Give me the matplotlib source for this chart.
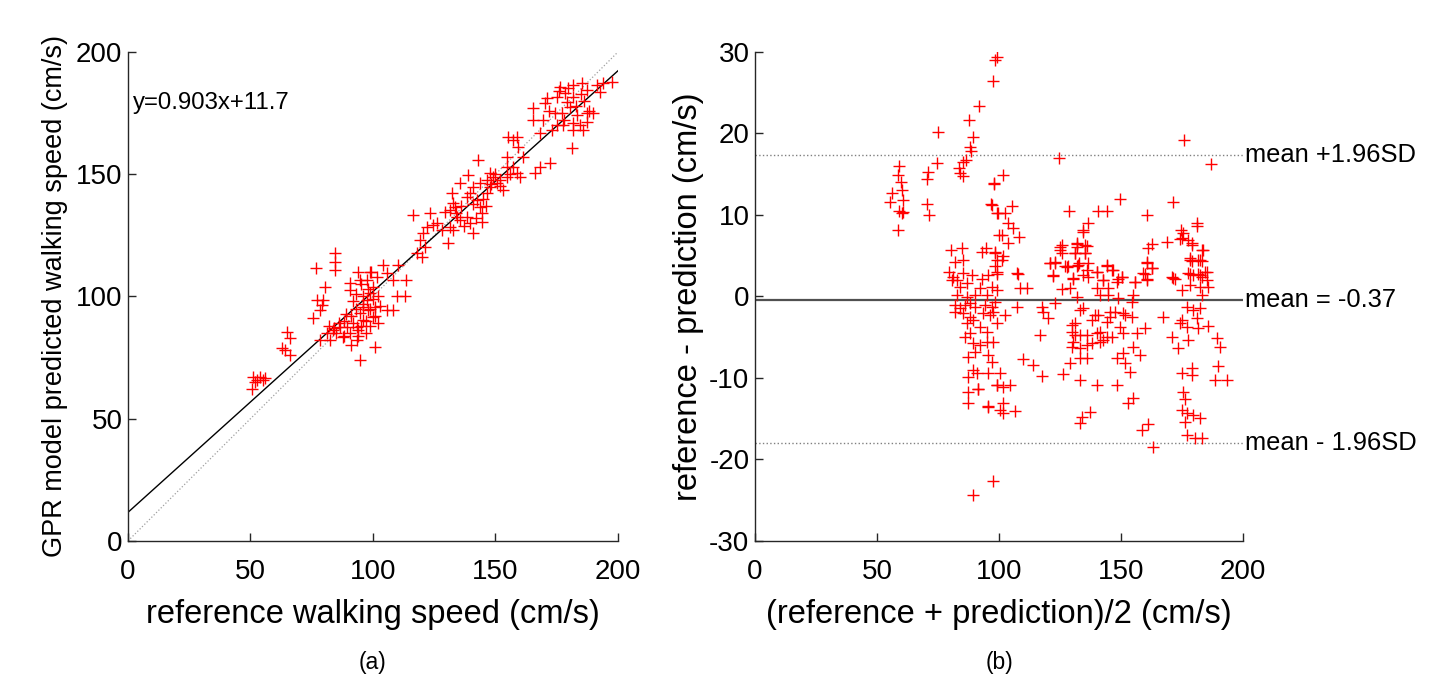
import matplotlib
matplotlib.use("Agg")
import matplotlib.pyplot as plt
import numpy as np

plt.rcParams['font.family'] = ['Liberation Sans', 'DejaVu Sans']
plt.rcParams['axes.unicode_minus'] = False

# ---- panel (a): reference vs. GPR prediction (cm/s) ----
a_pts = [
    (50.5, 62), (51, 67), (52.5, 66), (53.9, 67), (55, 66), (55.9, 66.7), (52, 65),
    (62.9, 78.9), (64.1, 78.1), (66.1, 76.1), (64.9, 85.5), (66.1, 83),
    (76.7, 111.7), (84.5, 117.8), (84.5, 114), (84.5, 110.8), (80.4, 103.9),
    (77.1, 98.6), (79.6, 98.6), (79.2, 96.5), (78.4, 94.5), (75.5, 91.2),
    (78.4, 82.2), (81.1, 84.9), (83.8, 86.3), (86.5, 87.6), (89.3, 87.6), (92, 89),
    (94, 86.3), (90.6, 84.9), (87.9, 83.6), (82.4, 82.2), (93.3, 82.2), (94.7, 93.1),
    (96, 95.8), (97.4, 98.6), (98.8, 101.3), (100.1, 104), (101.5, 108.1), (97.4, 106.7),
    (94.7, 106.7), (90.6, 105.4), (90.6, 102.7), (94, 110.2), (99.4, 110.2), (104.2, 112.9),
    (110.3, 112.9), (105.6, 109.5), (108.3, 106.7), (113.7, 106.7), (109.7, 100), (113.1, 100),
    (105.6, 94.5), (108.3, 94.5), (100.8, 95.8), (100.1, 91.7), (102.2, 89), (98.1, 94.5),
    (96, 90.4), (93.3, 87.6), (100.8, 79.5), (94.7, 74),
    (82, 88), (85, 85), (88, 90), (91, 92), (93, 95), (95, 88), (97, 90), (99, 95),
    (96, 100), (92, 98), (89, 93), (86, 89), (84, 87), (88, 84), (91, 80), (94, 84),
    (97, 85), (99, 88), (101, 92), (98, 103), (95, 105), (93, 101), (96, 97), (100, 99),
    (102, 100), (103, 96), (99, 110),
    (116.5, 133.3), (123.3, 134), (129.4, 134.7), (131.4, 135.4), (132.8, 138.1), (133.5, 136.7),
    (132.1, 142.2), (134.2, 132.6), (135.5, 131.3), (138.2, 132.6), (139.6, 129.9), (140.9, 125.8),
    (144.4, 134), (144.4, 130.6), (143.7, 136.7), (142.3, 139.5), (139.6, 142.2), (138.2, 140.8),
    (135.5, 146.3), (138.9, 149.7), (143, 155.8), (140.9, 144.9), (143.7, 146.3), (146.4, 147.6),
    (147.8, 150.4), (149.1, 149), (150.5, 146.3), (151.8, 147.6), (153.2, 143.6), (146.4, 142.2),
    (147.8, 144.9), (154.6, 149), (154.6, 153.1), (154.6, 157.2), (157.3, 153.1), (158.7, 150.4),
    (160, 149), (161.3, 157.2), (159.3, 161.3), (158.7, 165.4), (157.3, 164), (155.2, 165.4),
    (166.1, 150.4), (168.2, 153.1), (172.2, 154.5), (124.6, 129.2), (121.9, 128.5), (120.5, 125.8),
    (119.2, 123.1), (121.2, 120.4), (117.8, 117.7), (119.9, 116.3), (130.7, 121.8), (132.8, 127.2),
    (131.4, 128.5), (165.4, 177), (170.2, 179), (170.9, 181.1), (175, 181.7), (176.3, 185.8),
    (179.7, 185.2), (181.8, 186.5), (185.2, 187.2), (187.2, 184.5), (191.3, 186.5), (194, 187.2),
    (197.4, 187.9), (165.4, 172.2), (169.5, 172.2), (174.3, 174.9), (177, 174.9), (179.1, 179.7),
    (181.8, 181.7), (180.4, 177.6), (183.1, 174.2), (187.2, 174.9), (189.9, 174.9), (181.8, 170.8),
    (184.5, 170.1), (185.8, 168.1), (181.8, 168.1), (181.1, 160.6), (168.2, 166.7), (172.9, 168.1),
    (175, 170.1), (177.7, 170.1), (187.2, 171.5), (192.7, 183.8), (178.4, 183.1),
    (185, 183), (183, 178), (176, 184), (172, 176), (178, 172), (186, 180), (188, 176),
    (134, 134), (136, 137), (141, 138), (145, 140), (148, 146), (150, 150), (152, 145),
    (156, 150), (137, 129), (142, 132), (146, 137), (126, 130), (128, 127),
]
a_ref = [p[0] for p in a_pts]
a_pred = [p[1] for p in a_pts]
fit_slope, fit_icpt = 0.903, 11.7

# ---- panel (b): Bland-Altman (mean of the two, difference) ----
b_pts = [
    (99.0, 29.4), (98.4, 29.0), (97.4, 26.5), (91.9, 23.4), (87.8, 21.7), (89.5, 19.6),
    (88.1, 18.4), (88.4, 17.8), (86.5, 16.7), (85.4, 16.5), (74.9, 20.2), (74.5, 16.4),
    (83.7, 15.8), (84.0, 15.2), (85.4, 14.8), (70.8, 15.3), (70.4, 14.4), (70.4, 11.4), (71.3, 10.0),
    (59.0, 16.0), (58.5, 14.9), (59.7, 14.1), (60.4, 13.1), (56.0, 12.7), (55.3, 11.6), (60.8, 11.8),
    (59.0, 10.5), (60.8, 10.4), (60.1, 10.2), (58.5, 8.2),
    (98.1, 13.9), (96.6, 11.3), (99.0, 10.2), (99.8, 7.5),
    (176.0, 19.2), (124.7, 17.0), (186.9, 16.3), (101.8, 14.9), (98.0, 13.8), (149.6, 12.0),
    (171.4, 11.6), (160.5, 10.0), (128.7, 10.5), (140.7, 10.5), (144.4, 10.5),
    (97.0, 11.2), (105.2, 11.1), (99.7, 10.2), (102.5, 10.2), (103.8, 9.0), (105.9, 8.4),
    (101.1, 7.6), (108.3, 7.3), (103.8, 6.6), (136.6, 9.0), (134.5, 8.1), (181.0, 9.0), (181.3, 8.6),
    (174.5, 8.1), (175.5, 7.8), (174.2, 7.1), (177.6, 6.9), (179.0, 6.3), (168.7, 6.7),
    (162.6, 6.5), (161.2, 5.9), (183.7, 5.7), (125.7, 6.3), (125.0, 5.7), (131.8, 6.5), (132.1, 6.1),
    (135.9, 6.2), (135.2, 5.3), (131.1, 5.3),
    (120.9, 4.1), (123.0, 4.1), (127.0, 3.7), (122.3, 2.5), (128.4, 3.7), (131.8, 3.7), (132.9, 4.1),
    (135.9, 3.3), (130.5, 2.2), (136.6, 2.4), (140.0, 3.0), (144.1, 3.7), (146.2, 3.3), (142.7, 2.0),
    (148.9, 2.2), (150.3, 2.4), (155.7, 1.8), (159.8, 2.8), (160.5, 4.1), (162.6, 3.5), (160.5, 2.1),
    (170.8, 2.4), (172.1, 2.2), (178.3, 4.7), (179.0, 4.3), (181.7, 4.5), (183.1, 4.3), (178.3, 2.8),
    (179.6, 2.6), (181.7, 2.8), (183.1, 2.4), (184.4, 3.0), (185.1, 2.0), (107.9, 2.8), (98.4, 5.3),
    (101.1, 4.5), (98.4, 3.7), (99.1, 2.8),
    (107.2, -1.25), (102.5, -2.27), (117.5, -1.25), (118.2, -1.86), (120.2, -2.68), (123.0, -0.83),
    (133.2, -1.66), (134.6, -1.45), (139.3, -2.27), (138.0, -2.88), (140.7, -2.27), (145.5, -1.86),
    (145.5, -2.48), (147.5, -1.86), (151.0, -2.06), (151.6, -2.27), (154.4, -2.48), (144.1, -3.09),
    (129.8, -3.50), (131.1, -3.29), (129.8, -4.32), (131.1, -4.72), (133.2, -4.72), (135.9, -4.72),
    (140.0, -4.52), (141.4, -4.32), (144.1, -4.93), (146.2, -4.93), (149.6, -3.70), (151.0, -4.52),
    (156.4, -4.52), (159.8, -3.90), (167.3, -2.48), (174.9, -2.88), (176.9, -3.70), (174.2, -3.29),
    (179.6, -1.66), (182.4, -1.45), (176.9, -1.25), (181.0, -2.68), (185.8, -3.62), (189.2, -5.13),
    (190.6, -6.16), (170.8, -4.93), (173.5, -6.36), (177.6, -5.34), (181.7, -3.90), (116.8, -4.72),
    (129.8, -6.16), (130.5, -5.55), (133.2, -6.36), (135.9, -5.95), (138.0, -5.74), (141.4, -5.55),
    (142.8, -5.34), (155.0, -6.16), (157.8, -7.18), (151.0, -6.97), (148.2, -7.59), (151.6, -8.20),
    (133.2, -7.59), (135.9, -7.59), (129.1, -8.20), (126.4, -9.51), (117.5, -9.75), (114.1, -8.40),
    (110.0, -7.71), (133.2, -10.25), (140.0, -10.86), (148.2, -10.86), (153.7, -9.22), (174.9, -9.43),
    (179.0, -8.81), (179.0, -9.63), (188.5, -10.25), (193.3, -10.25), (189.9, -8.53), (175.5, -11.68),
    (176.2, -12.58), (174.9, -13.93), (176.9, -14.33), (179.6, -14.54), (182.4, -14.95), (176.2, -15.36),
    (155.0, -12.50), (153.0, -13.11), (137.3, -14.13), (133.9, -14.75), (133.2, -15.48), (161.2, -15.64),
    (158.5, -16.38), (176.9, -16.99), (180.3, -17.40), (183.1, -17.40), (163.2, -18.43), (101.8, -11.07),
    (104.5, -10.86), (101.8, -13.03), (101.8, -14.33), (106.6, -14.01), (100.4, -9.43),
    (174.9, 7.14), (179.0, 6.52), (183.1, 5.71), (178.3, 4.48), (182.4, 4.48), (160.5, 4.27),
    (162.6, 3.46), (159.2, 2.85), (160.5, 2.02), (155.7, 1.82), (171.4, 2.23), (177.6, 2.85),
    (182.4, 2.64), (185.1, 3.05), (178.3, 1.41), (182.4, 1.21), (185.8, 1.21), (174.9, 0.80),
    (183.1, 0.18), (125.0, 6.11), (131.8, 6.52), (135.2, 6.32), (120.9, 4.07), (123.0, 4.27),
    (125.7, 5.30), (131.1, 5.30), (135.2, 5.30), (127.7, 3.66), (132.5, 3.87), (136.6, 4.07),
    (122.3, 2.64), (130.5, 2.23), (134.6, 2.64), (140.0, 3.05), (144.1, 3.87), (146.9, 3.25),
    (150.3, 2.43), (148.2, 1.82), (142.8, 2.02), (140.0, 1.00), (144.8, 1.00), (125.7, 0.88),
    (129.1, 1.00), (131.8, -0.02), (141.4, 0.18), (144.8, 0.18), (148.9, -0.22), (155.0, 0.18),
    (154.4, -0.64), (108.6, 1.00), (111.4, 1.00), (107.2, 2.85), (134.6, 7.95), (101.8, 4.91),
    (80.3, 5.71), (85.0, 5.91), (92.9, 5.50), (94.7, 5.91), (98.4, 5.50), (82.0, 4.27), (85.1, 4.48),
    (99.0, 4.48), (79.6, 3.04), (81.3, 2.43), (82.7, 2.02), (85.4, 2.85), (88.8, 2.64), (92.9, 2.11),
    (95.6, 2.64), (99.0, 3.04), (80.6, 2.02), (84.0, 1.20), (86.8, 1.62), (92.2, 1.00), (97.0, 1.20),
    (99.0, 0.80), (82.7, 0.18), (86.8, -0.02), (90.2, 0.18), (95.0, 0.18), (82.0, -1.04), (84.0, -1.45),
    (86.1, -1.04), (88.1, -0.83), (90.2, -1.25), (94.3, -1.04), (97.0, -1.25), (98.4, -0.64),
    (82.0, -1.86), (85.4, -2.06), (88.1, -2.48), (89.5, -2.88), (93.6, -2.06), (96.3, -2.27),
    (97.7, -1.86), (86.8, -3.29), (92.2, -3.70), (95.0, -4.32), (99.0, -3.29), (86.1, -4.93),
    (88.1, -4.52), (89.5, -5.74), (92.2, -5.95), (95.0, -5.55), (97.7, -5.55), (87.4, -7.39),
    (90.2, -6.77), (95.6, -7.18), (97.0, -8.00), (89.5, -9.02), (90.9, -9.42), (87.4, -9.84),
    (95.6, -9.42), (99.0, -10.86), (87.4, -11.68), (91.5, -11.39), (87.4, -13.03), (95.6, -13.52),
    (100.4, -13.93), (97.7, -22.7), (89.2, -24.4), (95.6, -13.4), (91.5, -11.35), (99.0, -10.9),
]
b_avg = [p[0] for p in b_pts]
b_diff = [p[1] for p in b_pts]
diff_mean = -0.37
loa_upper, loa_lower = 17.3, -18.0

fig = plt.figure(figsize=(14.36, 6.86), dpi=100)
ax1 = fig.add_axes([0.0891, 0.2114, 0.3412, 0.7128])
ax2 = fig.add_axes([0.5258, 0.2114, 0.3398, 0.7128])

tick_fs = 20
lab_fs = 23.5
spine_c = '#262626'

def style(ax):
    for s in ['top', 'right']:
        ax.spines[s].set_visible(False)
    for s in ['left', 'bottom']:
        ax.spines[s].set_color(spine_c)
        ax.spines[s].set_linewidth(1.0)
    ax.tick_params(direction='in', length=6, width=1, colors=spine_c,
                   labelsize=tick_fs, labelcolor='black')
    ax.tick_params(axis='x', pad=13)
    ax.tick_params(axis='y', pad=4)

# (a)
xx = np.array([0, 200])
ax1.plot(xx, xx, ':', color='#a0a0a0', lw=0.9)
ax1.plot(xx, fit_slope * xx + fit_icpt, '-', color='black', lw=1.0)
ax1.plot(a_ref, a_pred, '+', color='red', ms=8, mew=1.0)
ax1.set_xlim(0, 200)
ax1.set_ylim(0, 200)
ax1.set_xticks([0, 50, 100, 150, 200])
ax1.set_yticks([0, 50, 100, 150, 200])
ax1.set_xlabel('reference walking speed (cm/s)', fontsize=lab_fs, labelpad=10)
ax1.set_ylabel('GPR model predicted walking speed (cm/s)', fontsize=19.5, labelpad=6)
ax1.text(2, 179, 'y=0.903x+11.7', fontsize=17.3, va='center')
style(ax1)

# (b)
ax2.plot([0, 200], [loa_upper, loa_upper], ':', color='#808080', lw=1.0)
ax2.plot([0, 200], [diff_mean, diff_mean], '-', color='#505050', lw=1.6)
ax2.plot([0, 200], [loa_lower, loa_lower], ':', color='#808080', lw=1.0)
ax2.plot(b_avg, b_diff, '+', color='red', ms=8, mew=1.0)
ax2.set_xlim(0, 200)
ax2.set_ylim(-30, 30)
ax2.set_xticks([0, 50, 100, 150, 200])
ax2.set_yticks([-30, -20, -10, 0, 10, 20, 30])
ax2.set_xlabel('(reference + prediction)/2 (cm/s)', fontsize=lab_fs, labelpad=10)
ax2.set_ylabel('reference - prediction (cm/s)', fontsize=lab_fs, labelpad=4)
ax2.text(201, loa_upper, 'mean +1.96SD', fontsize=18.4, va='center', clip_on=False)
ax2.text(201, diff_mean, 'mean = -0.37', fontsize=18.4, va='center', clip_on=False)
ax2.text(201, loa_lower, 'mean - 1.96SD', fontsize=18.4, va='center', clip_on=False)
style(ax2)

fig.text(0.2597, 0.034, '(a)', fontsize=16.5, ha='center', va='center')
fig.text(0.6957, 0.034, '(b)', fontsize=16.5, ha='center', va='center')

fig.savefig('out.png', dpi=100)
